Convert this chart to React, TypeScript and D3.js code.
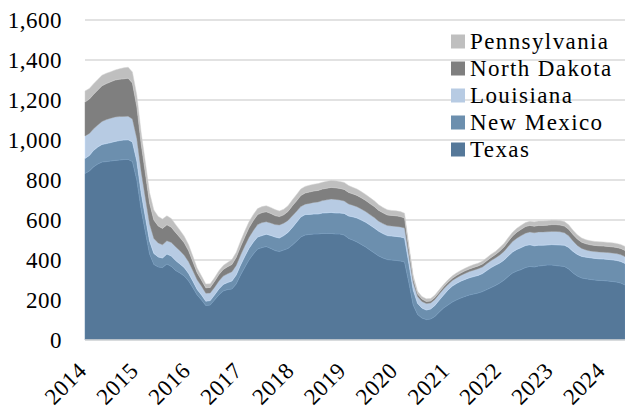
import React from "react";
import * as d3 from "d3";

// Monthly rig counts, Jan 2014 – Jun 2024
const texas = [
  833, 845, 865, 880, 890, 892, 895, 898, 900, 902, 903, 892,
  800, 650, 545, 430, 378, 365, 362, 380, 368, 348, 335, 320,
  295, 260, 225, 200, 172, 175, 200, 225, 245, 252, 255, 280,
  325, 365, 400, 430, 455, 462, 467, 458, 447, 442, 450, 458,
  475, 495, 515, 525, 528, 530, 530, 533, 533, 533, 530, 530,
  525, 508, 500, 490, 478, 465, 450, 435, 420, 410, 402, 400,
  398, 395, 390, 285, 175, 128, 110, 102, 105, 118, 140, 160,
  175, 190, 200, 210, 218, 225, 230, 235, 242, 252, 262, 272,
  285, 300, 318, 335, 345, 352, 362, 368, 365, 370, 372, 375,
  375, 372, 370, 368, 355, 335, 320, 310, 306, 303, 300, 298,
  297, 295, 293, 290, 285, 275,
];
const newMexico = [
  75, 78, 82, 85, 88, 90, 92, 95, 97, 98, 98, 98,
  95, 85, 75, 65, 55, 50, 48, 50, 52, 50, 45, 42,
  38, 33, 28, 25, 22, 22, 25, 30, 33, 35, 40, 45,
  50, 55, 58, 60, 60, 60, 62, 65, 68, 68, 72, 80,
  88, 95, 100, 102, 100, 100, 100, 102, 103, 105, 105, 105,
  108, 112, 116, 120, 122, 124, 125, 125, 124, 122, 120, 120,
  120, 120, 120, 95, 75, 55, 50, 48, 50, 55, 60, 65,
  75, 80, 82, 84, 85, 86, 87, 88, 90, 95, 100, 102,
  100, 100, 102, 105, 108, 110, 110, 108, 106, 104, 102, 100,
  102, 104, 105, 106, 108, 108, 108, 108, 108, 108, 108, 108,
  108, 108, 108, 108, 108, 108,
];
const louisiana = [
  112, 110, 108, 110, 115, 120, 122, 122, 120, 118, 118, 115,
  112, 105, 95, 85, 75, 70, 66, 66, 68, 68, 66, 62,
  58, 52, 48, 44, 40, 38, 38, 40, 42, 44, 46, 48,
  50, 52, 55, 58, 62, 65, 62, 62, 62, 65, 62, 60,
  58, 55, 52, 52, 55, 58, 60, 62, 65, 67, 68, 65,
  62, 60, 58, 56, 55, 53, 52, 52, 50, 50, 50, 50,
  50, 50, 50, 42, 38, 34, 33, 32, 30, 30, 30, 30,
  28, 28, 28, 29, 30, 31, 32, 33, 33, 34, 35, 36,
  40, 44, 48, 52, 56, 60, 62, 64, 65, 66, 66, 66,
  66, 67, 66, 62, 58, 52, 45, 40, 36, 34, 34, 34,
  34, 34, 34, 34, 34, 34,
];
const northDakota = [
  170, 172, 172, 175, 178, 180, 182, 185, 187, 188, 190, 180,
  160, 140, 125, 105, 92, 85, 82, 80, 76, 72, 67, 62,
  55, 45, 35, 30, 27, 28, 30, 32, 33, 35, 37, 40,
  42, 45, 48, 50, 50, 50, 50, 48, 45, 42, 42, 45,
  50, 52, 55, 56, 57, 57, 58, 58, 58, 58, 58, 58,
  58, 58, 57, 57, 56, 56, 55, 55, 54, 54, 53, 53,
  53, 52, 50, 30, 18, 13, 12, 11, 10, 10, 10, 11,
  11, 11, 12, 12, 13, 13, 14, 14, 15, 15, 16, 17,
  20, 22, 25, 28, 30, 32, 33, 33, 33, 33, 33, 33,
  34, 34, 34, 34, 33, 32, 32, 31, 31, 31, 31, 31,
  31, 31, 31, 31, 31, 31,
];
const pennsylvania = [
  55, 53, 53, 53, 53, 52, 50, 50, 52, 55, 55, 55,
  57, 55, 55, 52, 50, 48, 47, 45, 43, 40, 36, 33,
  30, 27, 24, 21, 19, 18, 18, 19, 20, 22, 24, 25,
  28, 30, 30, 30, 30, 30, 30, 30, 30, 28, 28, 28,
  30, 32, 33, 33, 34, 34, 34, 34, 35, 35, 35, 35,
  35, 34, 33, 32, 31, 30, 30, 29, 28, 27, 26, 25,
  25, 25, 24, 20, 16, 14, 13, 13, 12, 12, 12, 12,
  12, 12, 13, 13, 13, 14, 14, 14, 15, 15, 16, 16,
  17, 18, 18, 19, 20, 20, 20, 21, 22, 22, 22, 22,
  22, 22, 22, 22, 22, 22, 21, 21, 20, 20, 20, 20,
  20, 20, 20, 20, 20, 20,
];

const seriesNames = ["Texas", "New Mexico", "Louisiana", "North Dakota", "Pennsylvania"];
const seriesValues = [texas, newMexico, louisiana, northDakota, pennsylvania];
const seriesColors = ["#557899", "#6C8FAE", "#B7CBE3", "#7F7F7F", "#BFBFBF"];
const yTicks = [0, 200, 400, 600, 800, 1000, 1200, 1400, 1600];
const xYears = [2014, 2015, 2016, 2017, 2018, 2019, 2020, 2021, 2022, 2023, 2024];

const W = 625;
const H = 408;
const textStyle: React.CSSProperties = { fontFamily: '"Liberation Serif", "DejaVu Serif", serif', fontSize: "23px" };

export default function App() {
  const dates = d3.timeMonth.range(new Date(2014, 0, 1), new Date(2024, 6, 1));
  const rows = dates.map((d, i) => {
    const r: any = { date: d };
    seriesNames.forEach((n, k) => (r[n] = seriesValues[k][i]));
    return r;
  });

  const x = d3
    .scaleTime()
    .domain([new Date(2014, 0, 1), new Date(2024, 5, 1)])
    .range([85, 625]);
  const y = d3.scaleLinear().domain([0, 1600]).range([340, 20]);

  const stacked = d3.stack().keys(seriesNames)(rows as any);
  const area = d3
    .area<any>()
    .x((d) => x(d.data.date))
    .y0((d) => y(d[0]))
    .y1((d) => y(d[1]));

  const legendOrder = [...seriesNames].reverse();

  return (
    <div style={{ position: "absolute", left: 0, top: 0 }}>
      <svg width={W} height={H} style={{ display: "block", background: "#fff" }}>
        {yTicks.slice(1).map((t) => (
          <line key={t} x1={85} x2={625} y1={y(t)} y2={y(t)} stroke="#D9D9D9" strokeWidth={1.5} />
        ))}
        {stacked.map((s, i) => (
          <path
            key={seriesNames[i]}
            d={area(s as any) || ""}
            fill={seriesColors[i]}
            stroke={d3.color(seriesColors[i])!.brighter(0.3).formatHex()}
            strokeWidth={0.5}
          />
        ))}
        <line x1={85} x2={625} y1={y(0)} y2={y(0)} stroke="#D9D9D9" strokeWidth={1.5} />
        {yTicks.map((t) => (
          <text
            key={t}
            x={62}
            y={y(t) + 7.5}
            textAnchor="end"
            style={{ ...textStyle, letterSpacing: "0.5px" }}
            fill="#000"
          >
            {d3.format(",")(t)}
          </text>
        ))}
        {xYears.map((yr) => {
          const px = x(new Date(yr, 0, 1));
          return (
            <text
              key={yr}
              transform={`translate(${px + 3},${372}) rotate(-45)`}
              textAnchor="end"
              style={{ ...textStyle, letterSpacing: "0.5px" }}
              fill="#000"
            >
              {yr}
            </text>
          );
        })}
        {legendOrder.map((n, i) => {
          const k = seriesNames.indexOf(n);
          const base = 48.5 + i * 27;
          return (
            <g key={n}>
              <rect x={451} y={base - 14} width={14} height={14} fill={seriesColors[k]} />
              <text x={470} y={base} style={{ ...textStyle, letterSpacing: "1.4px" }} fill="#000">
                {n}
              </text>
            </g>
          );
        })}
      </svg>
    </div>
  );
}
